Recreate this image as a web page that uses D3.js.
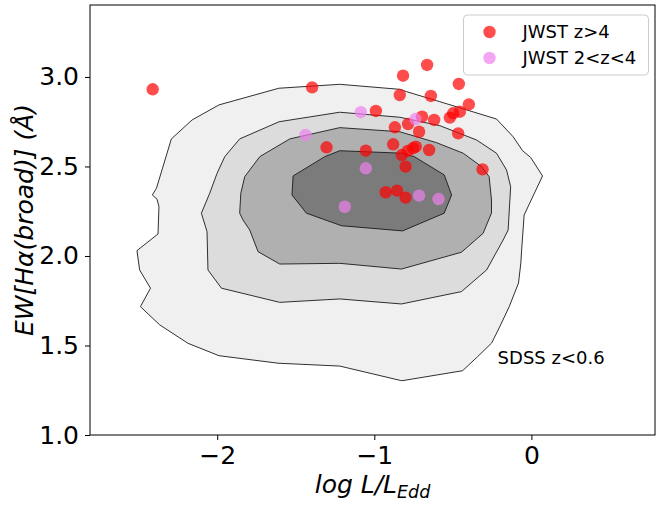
<!DOCTYPE html>
<html>
<head>
<meta charset="utf-8">
<script src="https://cdn.jsdelivr.net/npm/d3@7"></script>
<style>
  body { margin: 0; background: #fff; }
  text { font-family: "DejaVu Sans", sans-serif; }
</style>
</head>
<body>
<svg id="chart" width="656" height="506"></svg>
<script>
// SDSS z<0.6 density contours, outer to inner: [logLEdd, logEW]
var contour1 = [[-2.292,2.654],[-2.160,2.760],[-1.989,2.844],[-1.608,2.937],[-1.220,2.959],[-0.838,2.931],
  [-0.795,2.918],[-0.583,2.862],[-0.222,2.765],[-0.116,2.666],[-0.056,2.588],[-0.005,2.551],[0.071,2.447],
  [-0.046,2.229],[-0.062,2.034],[-0.067,1.961],[-0.082,1.849],[-0.141,1.717],[-0.205,1.598],[-0.253,1.514],
  [-0.343,1.437],[-0.438,1.359],[-0.825,1.303],[-1.220,1.385],[-1.613,1.401],[-1.989,1.443],[-2.186,1.512],
  [-2.366,1.615],[-2.489,1.717],[-2.425,1.820],[-2.494,1.922],[-2.511,2.030],[-2.377,2.123],[-2.371,2.275],
  [-2.383,2.317],[-2.413,2.341],[-2.387,2.378]];
var contour2 = [[-1.857,2.654],[-1.606,2.750],[-1.220,2.803],[-0.838,2.775],[-0.583,2.728],[-0.349,2.648],
  [-0.222,2.574],[-0.158,2.480],[-0.132,2.387],[-0.148,2.145],[-0.180,2.089],[-0.285,1.922],[-0.445,1.801],
  [-0.827,1.732],[-1.220,1.760],[-1.602,1.741],[-1.973,1.820],[-2.059,1.922],[-2.065,2.136],[-2.101,2.239],
  [-2.048,2.350],[-2.001,2.462],[-1.952,2.555]];
var contour3 = [[-1.857,2.239],[-1.850,2.350],[-1.825,2.443],[-1.729,2.555],[-1.538,2.654],[-1.220,2.717],
  [-0.838,2.694],[-0.604,2.633],[-0.434,2.574],[-0.317,2.499],[-0.269,2.443],[-0.254,2.313],[-0.254,2.240],
  [-0.307,2.127],[-0.445,2.021],[-0.827,1.927],[-1.220,1.959],[-1.602,1.955],[-1.740,2.024],[-1.793,2.145],
  [-1.836,2.201]];
var contour4 = [[-1.517,2.447],[-1.524,2.341],[-1.432,2.239],[-1.209,2.169],[-0.820,2.140],[-0.555,2.239],
  [-0.508,2.341],[-0.555,2.453],[-0.746,2.555],[-0.820,2.574],[-1.220,2.588],[-1.315,2.555]];
var contours = [contour1, contour2, contour3, contour4];
var contourFills = ["#f0f0f0", "#dcdcdc", "#b0b0b0", "#7b7b7b"];

// JWST z>4
var highZ_x = [-2.411,-1.396,-0.664,-0.817,-0.462,-0.838,-0.640,-0.990,-0.398,-0.455,-0.498,-0.519,-0.696,
  -0.619,-0.785,-0.869,-0.715,-0.466,-1.304,-0.880,-1.054,-0.736,-0.753,-0.651,-0.825,-0.787,-0.801,-0.311,
  -0.927,-0.855,-0.801];
var highZ_y = [2.931,2.942,3.067,3.007,2.961,2.899,2.894,2.810,2.847,2.806,2.797,2.773,2.778,
  2.760,2.737,2.719,2.694,2.685,2.607,2.624,2.588,2.611,2.602,2.592,2.564,2.587,2.499,2.484,
  2.356,2.365,2.326];
// JWST 2<z<4
var midZ_x = [-1.438,-1.086,-0.738,-1.054,-1.188,-0.715,-0.591];
var midZ_y = [2.676,2.803,2.765,2.490,2.275,2.337,2.318];

var xTicks = [-2, -1, 0];
var yTicks = [1.0, 1.5, 2.0, 2.5, 3.0];

var svg = d3.select("#chart"),
    margin = {top: 5, right: 1, bottom: 71, left: 90},
    width = +svg.attr("width") - margin.left - margin.right,
    height = +svg.attr("height") - margin.top - margin.bottom;

var g = svg.append("g").attr("transform", "translate(" + margin.left + "," + margin.top + ")");

var x = d3.scaleLinear().domain([-2.81, 0.787]).range([0, width]);
var y = d3.scaleLinear().domain([1.0, 3.402]).range([height, 0]);

var line = d3.line()
    .x(function(d) { return x(d[0]); })
    .y(function(d) { return y(d[1]); })
    .curve(d3.curveLinearClosed);

contours.forEach(function(c, i) {
  g.append("path")
      .attr("d", line(c))
      .attr("fill", contourFills[i])
      .attr("stroke", "#1a1a1a")
      .attr("stroke-width", 0.9)
      .attr("stroke-linejoin", "round");
});

g.append("text")
    .attr("x", x(-0.215))
    .attr("y", y(1.398))
    .attr("font-size", "18px")
    .text("SDSS z<0.6");

g.selectAll(".hz").data(highZ_x).enter().append("circle")
    .attr("cx", function(d) { return x(d); })
    .attr("cy", function(d, i) { return y(highZ_y[i]); })
    .attr("r", 6.2)
    .attr("fill", "red")
    .attr("fill-opacity", 0.7);

g.selectAll(".mz").data(midZ_x).enter().append("circle")
    .attr("cx", function(d) { return x(d); })
    .attr("cy", function(d, i) { return y(midZ_y[i]); })
    .attr("r", 6.2)
    .attr("fill", "violet")
    .attr("fill-opacity", 0.7);

// axes
var xAxis = g.append("g")
    .attr("transform", "translate(0," + height + ")")
    .call(d3.axisBottom(x).tickValues(xTicks).tickFormat(d3.format("d")).tickSize(5).tickPadding(6));
var yAxis = g.append("g")
    .call(d3.axisLeft(y).tickValues(yTicks).tickFormat(d3.format(".1f")).tickSize(5).tickPadding(6));

[xAxis, yAxis].forEach(function(a) {
  a.select(".domain").remove();
  a.selectAll("line").attr("stroke", "#000").attr("stroke-width", 1);
  a.selectAll("text").attr("font-size", "25px").attr("fill", "#000")
      .style("font-family", "'DejaVu Sans', sans-serif");
});

g.append("rect")
    .attr("width", width)
    .attr("height", height)
    .attr("fill", "none")
    .attr("stroke", "#000")
    .attr("stroke-width", 1);

// labels
var xl = svg.append("text")
    .attr("x", margin.left + width / 2)
    .attr("y", 493)
    .attr("text-anchor", "middle")
    .attr("font-size", "25px")
    .attr("font-style", "italic");
xl.append("tspan").text("log L/L");
xl.append("tspan").attr("font-size", "17.5px").attr("dy", 5).text("Edd");

svg.append("text")
    .attr("transform", "translate(33," + (margin.top + height / 2) + ") rotate(-90)")
    .attr("text-anchor", "middle")
    .attr("font-size", "25px")
    .attr("font-style", "italic")
    .text("EW[H\u03b1(broad)] (\u00c5)");

// legend
var legend = svg.append("g").attr("transform", "translate(463.5,15)");
legend.append("rect")
    .attr("width", 185)
    .attr("height", 60)
    .attr("rx", 4)
    .attr("fill", "#fff")
    .attr("fill-opacity", 0.8)
    .attr("stroke", "#cccccc");
var legendItems = [["JWST z>4", "red"], ["JWST 2<z<4", "violet"]];
legendItems.forEach(function(it, i) {
  legend.append("circle")
      .attr("cx", 26)
      .attr("cy", 17 + i * 26)
      .attr("r", 6.2)
      .attr("fill", it[1])
      .attr("fill-opacity", 0.7);
  legend.append("text")
      .attr("x", 59)
      .attr("y", 17 + i * 26)
      .attr("dy", "0.35em")
      .attr("font-size", "18px")
      .text(it[0]);
});
</script>
</body>
</html>
